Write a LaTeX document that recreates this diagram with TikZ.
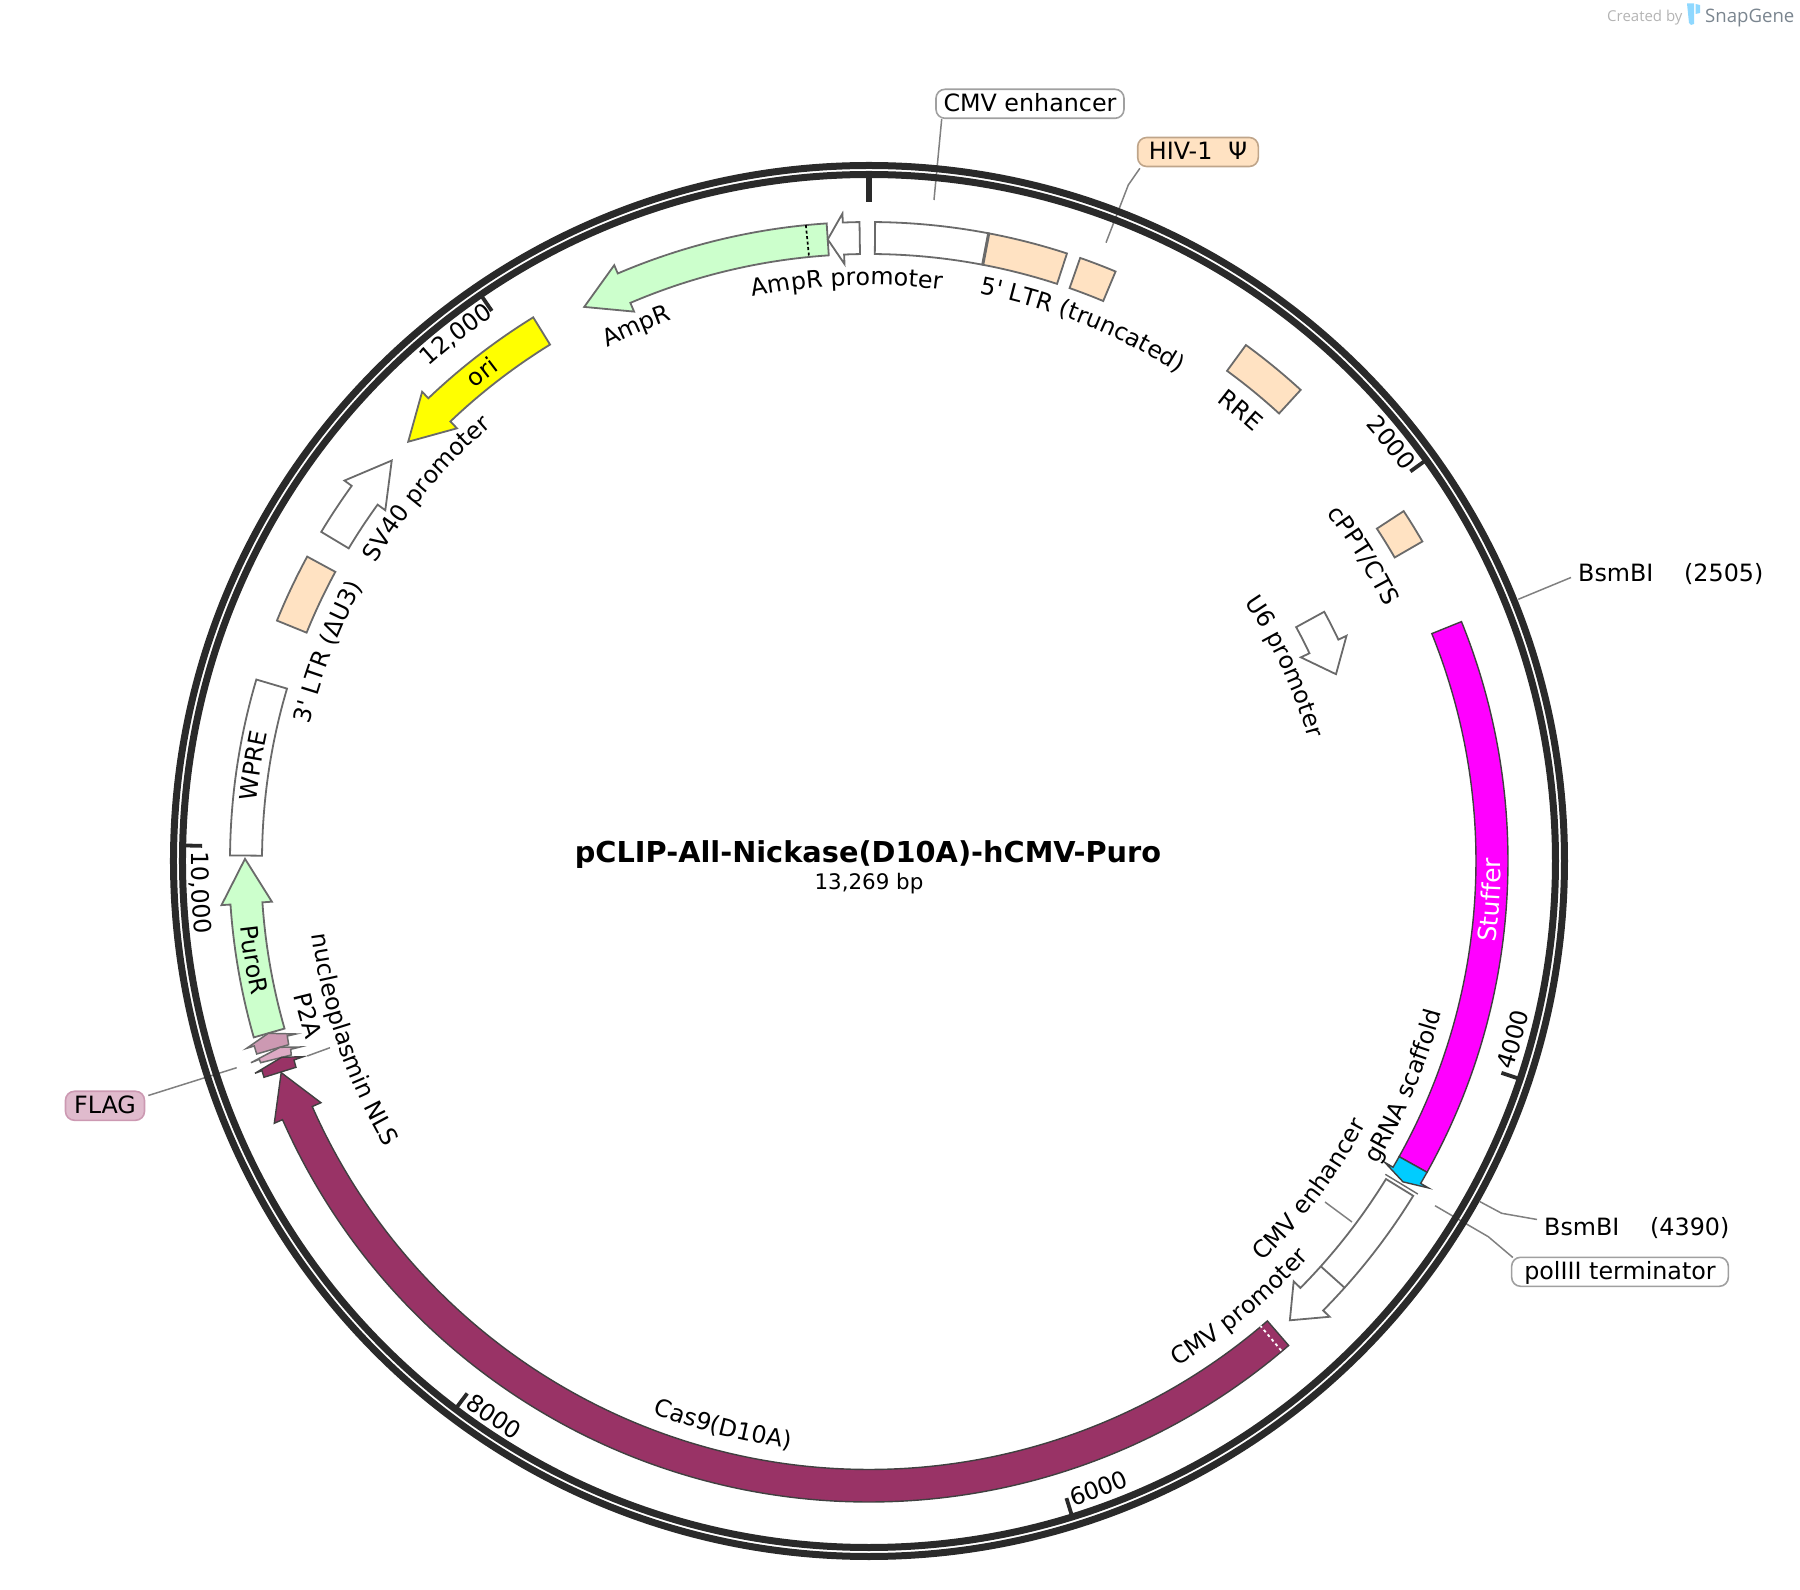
\documentclass[tikz,border=0pt]{standalone}
\usepackage{fontspec}
\usetikzlibrary{decorations.text}
\newfontfamily\mapfont{DejaVu Sans}
\newfontfamily\brandfont{Open Sans}
\newcommand{\labelfont}{\mapfont\fontsize{23.8}{28}\selectfont}

\definecolor{ringcol}{HTML}{2A2A2A}
\definecolor{edgecol}{HTML}{6A6A6A}
\definecolor{leadcol}{HTML}{808080}
\definecolor{ltrcol}{HTML}{FFE2C2}
\definecolor{resistcol}{HTML}{CCFFCC}
\definecolor{cascol}{HTML}{993366}
\definecolor{tagcol}{HTML}{CC99B2}
\definecolor{p2acol}{HTML}{DDAAC4}
\definecolor{flagcol}{HTML}{E0BBCD}
\definecolor{scaffcol}{HTML}{00CCFF}
\definecolor{stuffcol}{HTML}{FF00FF}
\definecolor{oricol}{HTML}{FFFF00}
\definecolor{boxcol}{HTML}{A0A0A0}
\definecolor{hivedge}{HTML}{BFA58A}
\definecolor{brandcol}{HTML}{7A858F}
\definecolor{createdcol}{HTML}{B4B4B4}
\definecolor{tubecol}{HTML}{8FD8FF}

\tikzset{
    pixel/.style={shift={(-869,861)},y=-1pt},
    feat/.style={draw=edgecol,line width=1.8pt,line join=miter},
    darkfeat/.style={draw=black!75,line width=1.4pt,line join=miter},
    leader/.style={draw=leadcol,line width=1.5pt},
    ringline/.style={draw=ringcol,line width=7pt},
    tick/.style={draw=ringcol,line width=3.8pt},
    pointbox/.style={draw,line width=1.6pt,rounded corners=9pt,inner sep=0pt,minimum height=29pt,
        text height=20pt,text depth=4pt,font=\labelfont},
    plain/.style={anchor=base west,inner sep=0pt,font=\labelfont}
}

% band piece: style, from, to (degrees clockwise from the top)
\newcommand{\bandfeat}[3]{
    \draw[#1] ({90-(#2)}:639) arc[start angle={90-(#2)},end angle={90-(#3)},radius=639]
        -- ({90-(#3)}:607) arc[start angle={90-(#3)},end angle={90-(#2)},radius=607] -- cycle;
}
% band arrow: style, tail, base of head, tip, inner and outer radius
\newcommand{\arrowfeat}[6]{
    \draw[#1] ({90-(#2)}:#6) arc[start angle={90-(#2)},end angle={90-(#3)},radius=#6]
        -- ({90-(#3)}:#6+9) -- ({90-(#4)}:{(#5+#6)/2}) -- ({90-(#3)}:#5-9.5)
        -- ({90-(#3)}:#5) arc[start angle={90-(#3)},end angle={90-(#2)},radius=#5] -- cycle;
}
% text on a circle: radius, middle angle, text
\newcommand{\cwtext}[3]{
    \path[decorate,decoration={text along path,text align=center,text={|\labelfont|#3}}]
        ({90-(#2)+32}:#1) arc[start angle={90-(#2)+32},end angle={90-(#2)-32},radius=#1];
}
\newcommand{\ccwtext}[3]{
    \path[decorate,decoration={text along path,text align=center,text={|\labelfont|#3}}]
        ({90-(#2)-32}:#1) arc[start angle={90-(#2)-32},end angle={90-(#2)+32},radius=#1];
}

\begin{document}
\begin{tikzpicture}[x=1pt,y=1pt]
    \useasboundingbox (-869,-729) rectangle (931,861);

    % call-outs and their lines
    \begin{scope}[pixel]
        \node[pointbox,draw=boxcol,fill=white,minimum width=188pt] (cmvbox) at (1030,103.8) {CMV enhancer};
        \node[pointbox,draw=hivedge,fill=ltrcol,minimum width=120.6pt] (hivbox) at (1198,152) {HIV-1\hspace{.35em} Ψ};
        \node[pointbox,draw=boxcol,fill=white,minimum width=216.7pt] (polbox) at (1620,1271.8) {polIII terminator};
        \node[pointbox,draw=tagcol,fill=flagcol,minimum width=79pt] (flagbox) at (105,1105.8) {FLAG};
        \node[plain] (bsma) at (1578,582) {BsmBI};
        \node[plain] (sitea) at (1684,582) {(2505)};
        \node[plain] (bsmb) at (1544,1235) {BsmBI};
        \node[plain] (siteb) at (1650,1235) {(4390)};

        \coordinate (cmvend) at (934,200);
        \coordinate (hivbend) at (1128.3,185);
        \coordinate (hivend) at (1106,242.7);
        \coordinate (polbend) at (1488.3,1236.7);
        \coordinate (polend) at (1435,1205.7);
        \coordinate (flagend) at (236.7,1067.7);
        \coordinate (sitebbend) at (1501.7,1213.3);
        \coordinate (sitebend) at (1480,1201.7);
        \coordinate (siteaend) at (1518.3,599.3);

        \draw[leader] ([xshift=6.5pt]cmvbox.south west) -- (cmvend);
        \draw[leader] ([xshift=3pt,yshift=-1pt]hivbox.south west) -- (hivbend) -- (hivend);
        \draw[leader] ([xshift=2pt,yshift=-1pt]polbox.north west) -- (polbend) -- (polend);
        \draw[leader] ([xshift=3pt,yshift=-5pt]flagbox.north east) -- (flagend);
        \draw[leader] ([xshift=-7pt,yshift=7pt]bsmb.west) -- (sitebbend) -- (sitebend);
        \draw[leader] ([xshift=-7pt,yshift=-4pt]bsma.west) -- (siteaend);

        % lines without a box
        \draw[leader] (1325,1202) -- (1352,1222);
        \draw[leader] (307.3,1056) -- (330,1047.7);
    \end{scope}

    % backbone
    \draw[ringline] (0,0) circle (695.5);
    \draw[ringline] (0,0) circle (686.5);
    \draw[ringcol,line width=5.7pt] (90:685) -- (90:659);
    \foreach \a in {54.26,108.52,162.78,217.04,271.3,325.56}{
        \draw[tick] ({90-\a}:685) -- ({90-\a}:667);
    }

    % features, clockwise
    \bandfeat{feat,fill=white}{0.55}{10.8}
    \bandfeat{feat,fill=ltrcol}{10.8}{18.05}
    \draw[edgecol,line width=3pt] ({90-10.8}:639) -- ({90-10.8}:607);
    \bandfeat{feat,fill=ltrcol}{19.3}{22.7}
    \bandfeat{feat,fill=ltrcol}{36.15}{42.5}
    \bandfeat{feat,fill=ltrcol}{56.8}{60}
    \arrowfeat{feat,fill=white}{61.3}{64.75}{68.2}{487}{519}
    \bandfeat{darkfeat,fill=stuffcol}{68}{119.15}
    \arrowfeat{darkfeat,fill=scaffcol}{119.15}{120.3}{121}{607}{639}
    \draw[edgecol,line width=1.4pt] ({90-121.25}:604) -- ({90-121.25}:642);
    \arrowfeat{feat,fill=white}{121.6}{134.7}{137.5}{607}{639}
    \draw[edgecol,line width=1.8pt] ({90-131.9}:639) -- ({90-131.9}:607);
    \arrowfeat{darkfeat,fill=cascol}{139.1}{246.2}{250.2}{608.5}{641}
    \draw[white,line width=1.8pt,dash pattern=on 3pt off 3pt] ({90-139.9}:640) -- ({90-139.9}:608);
    \arrowfeat{feat,fill=resistcol}{254}{266.1}{270.2}{608}{640}
    \bandfeat{feat,fill=white}{270.5}{286.5}
    \bandfeat{feat,fill=ltrcol}{292.1}{298.45}
    \arrowfeat{feat,fill=white}{301}{305.95}{310}{607}{639}
    \arrowfeat{feat,fill=oricol}{328.3}{316.4}{312.3}{607}{639}
    \arrowfeat{feat,fill=resistcol}{356.2}{336.85}{332.8}{607}{639}
    \draw[black,line width=1.7pt,dash pattern=on 3pt off 2.5pt] ({90-354.33}:639) -- ({90-354.33}:607);
    \arrowfeat{feat,fill=white}{359.15}{357.65}{356.2}{607}{639}

    % small tags, title, logo
    \begin{scope}[pixel]
        \draw[feat,fill=tagcol,line width=1.5pt] (256.7,1054) -- (288.7,1044.7) -- (287.3,1036) -- (296,1034)
            -- (268.3,1033.3) -- (246.7,1048.3) -- (254.3,1046) -- cycle;
        \draw[feat,fill=p2acol,line width=1.5pt] (260.7,1062.7) -- (291.3,1055) -- (290.7,1049.3) -- (300,1047)
            -- (280,1047.3) -- (251,1062.7) -- (259.3,1059.3) -- cycle;
        \draw[darkfeat,fill=cascol] (264,1077.3) -- (296,1067.3) -- (294,1060) -- (303.3,1056.7)
            -- (281.7,1057.3) -- (255,1073.3) -- (262,1070.7) -- cycle;

        \node[anchor=base,inner sep=0pt,font=\mapfont\bfseries\fontsize{28.8}{33}\selectfont] (title) at (868,863) {pCLIP-All-Nickase(D10A)-hCMV-Puro};
        \node[anchor=base,inner sep=0pt,font=\mapfont\fontsize{21.4}{26}\selectfont] (size) at (869,890) {13,269 bp};

        \node[anchor=base west,inner sep=0pt,text=createdcol,font=\brandfont\fontsize{15}{18}\selectfont] (created) at (1607,21.5) {Created by};
        \node[anchor=base west,inner sep=0pt,text=brandcol,font=\brandfont\fontsize{18.6}{22}\selectfont] (brand) at (1705,22.5) {SnapGene};
        \fill[tubecol] (1687,3.5) -- (1694,3.5) -- (1694,24) -- (1691,25) -- (1689,23) -- cycle;
        \fill[tubecol] (1695.5,4) -- (1700,5) -- (1700,13) -- (1695.5,14) -- cycle;
    \end{scope}

    % labels on the circle
    \cwtext{576}{357.8}{AmpR promoter}
    \cwtext{578}{21.7}{5' LTR (truncated)}
    \cwtext{576}{39.5}{RRE}
    \cwtext{661}{51.3}{2000}
    \cwtext{575}{58.3}{cPPT/CTS}
    \cwtext{456}{64.9}{U6 promoter}
    \path[decorate,decoration={text along path,text align=center,text color=white,text={|\mapfont\fontsize{25}{30}\selectfont|Stuffer}}]
        ({90-93.6-32}:632) arc[start angle={90-93.6-32},end angle={90-93.6+32},radius=632];
    \ccwtext{677}{105.5}{4000}
    \ccwtext{592}{112.8}{gRNA scaffold}
    \ccwtext{562}{126.7}{CMV enhancer}
    \ccwtext{592}{140.3}{CMV promoter}
    \ccwtext{677}{159.9}{6000}
    \ccwtext{593}{194.5}{Cas9(D10A)}
    \ccwtext{679}{214}{8000}
    \ccwtext{562}{250.9}{nucleoplasmin NLS}
    \ccwtext{591}{254.6}{P2A}
    \ccwtext{632}{260.9}{PuroR}
    \ccwtext{678}{267.3}{10,000}
    \cwtext{615}{278.8}{WPRE}
    \cwtext{576}{291.1}{3' LTR (ΔU3)}
    \cwtext{576}{310.1}{SV40 promoter}
    \cwtext{615}{321.6}{ori}
    \cwtext{662}{321.9}{12,000}
    \cwtext{576}{336.5}{AmpR}
\end{tikzpicture}
\end{document}
